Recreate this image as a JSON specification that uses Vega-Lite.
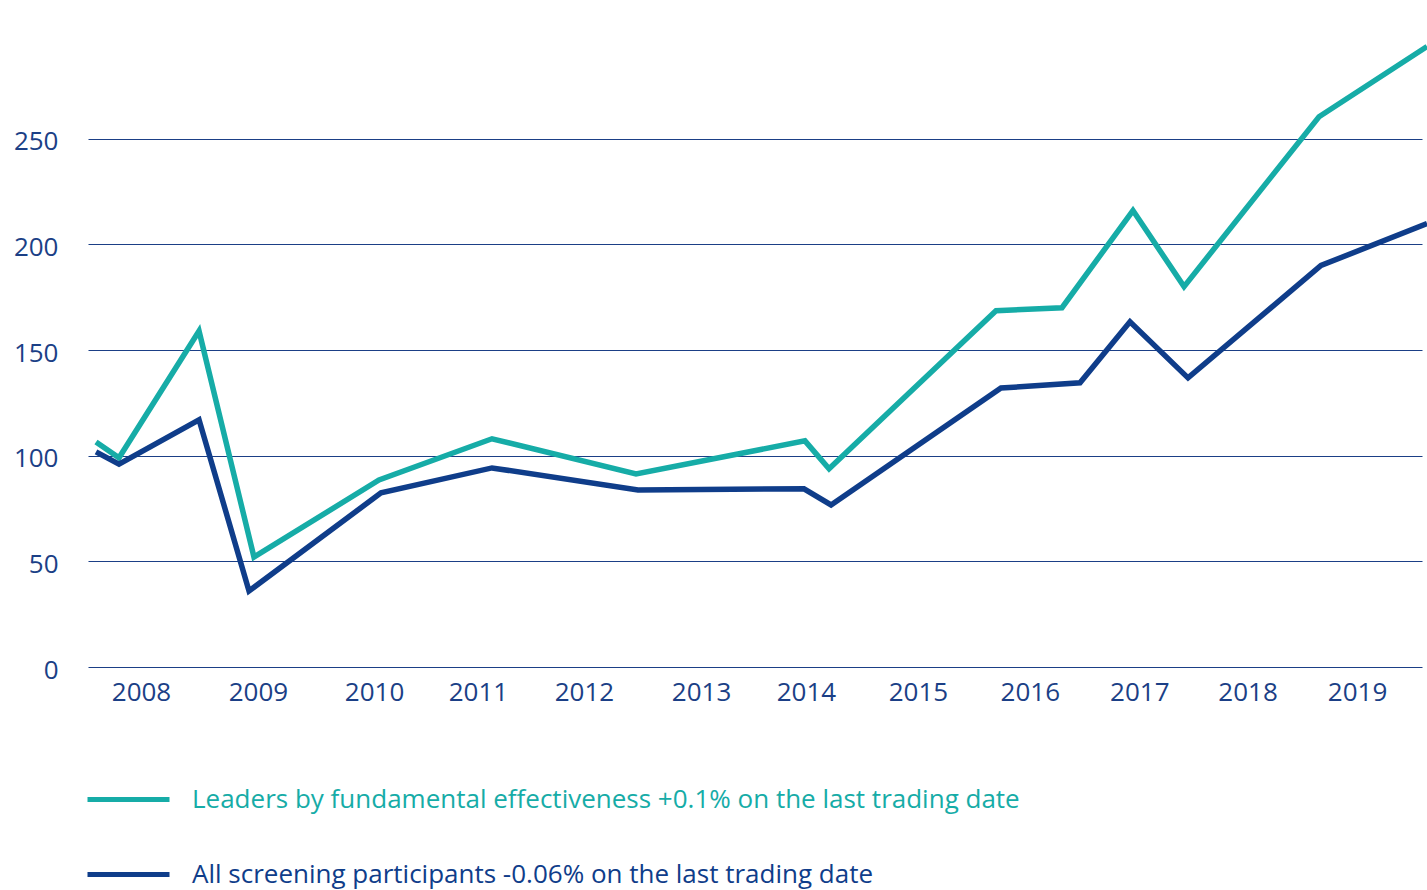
{
  "$schema": "https://vega.github.io/schema/vega-lite/v6.json",
  "width": 1334,
  "height": 634,
  "autosize": {"type": "none"},
  "padding": {"left": 88, "top": 33, "right": 5, "bottom": 223},
  "background": "white",
  "config": {
    "view": {"stroke": null},
    "font": "Open Sans"
  },
  "data": {
    "values": [
      {"series": "Leaders by fundamental effectiveness +0.1% on the last trading date", "t": 2007.593, "v": 106.5},
      {"series": "Leaders by fundamental effectiveness +0.1% on the last trading date", "t": 2007.801, "v": 99},
      {"series": "Leaders by fundamental effectiveness +0.1% on the last trading date", "t": 2008.525, "v": 159},
      {"series": "Leaders by fundamental effectiveness +0.1% on the last trading date", "t": 2009.022, "v": 52},
      {"series": "Leaders by fundamental effectiveness +0.1% on the last trading date", "t": 2010.153, "v": 88.5},
      {"series": "Leaders by fundamental effectiveness +0.1% on the last trading date", "t": 2011.175, "v": 108},
      {"series": "Leaders by fundamental effectiveness +0.1% on the last trading date", "t": 2012.478, "v": 91.4},
      {"series": "Leaders by fundamental effectiveness +0.1% on the last trading date", "t": 2014.006, "v": 107},
      {"series": "Leaders by fundamental effectiveness +0.1% on the last trading date", "t": 2014.224, "v": 93.8},
      {"series": "Leaders by fundamental effectiveness +0.1% on the last trading date", "t": 2015.734, "v": 168.6},
      {"series": "Leaders by fundamental effectiveness +0.1% on the last trading date", "t": 2016.331, "v": 170},
      {"series": "Leaders by fundamental effectiveness +0.1% on the last trading date", "t": 2016.973, "v": 216},
      {"series": "Leaders by fundamental effectiveness +0.1% on the last trading date", "t": 2017.435, "v": 180},
      {"series": "Leaders by fundamental effectiveness +0.1% on the last trading date", "t": 2018.656, "v": 260.4},
      {"series": "Leaders by fundamental effectiveness +0.1% on the last trading date", "t": 2019.633, "v": 293.6},
      {"series": "All screening participants -0.06% on the last trading date", "t": 2007.593, "v": 101.8},
      {"series": "All screening participants -0.06% on the last trading date", "t": 2007.801, "v": 96},
      {"series": "All screening participants -0.06% on the last trading date", "t": 2008.525, "v": 117},
      {"series": "All screening participants -0.06% on the last trading date", "t": 2008.977, "v": 36},
      {"series": "All screening participants -0.06% on the last trading date", "t": 2010.171, "v": 82.4},
      {"series": "All screening participants -0.06% on the last trading date", "t": 2011.175, "v": 94.2},
      {"series": "All screening participants -0.06% on the last trading date", "t": 2012.496, "v": 83.8},
      {"series": "All screening participants -0.06% on the last trading date", "t": 2013.997, "v": 84.3},
      {"series": "All screening participants -0.06% on the last trading date", "t": 2014.242, "v": 76.7},
      {"series": "All screening participants -0.06% on the last trading date", "t": 2015.779, "v": 132},
      {"series": "All screening participants -0.06% on the last trading date", "t": 2016.494, "v": 134.5},
      {"series": "All screening participants -0.06% on the last trading date", "t": 2016.946, "v": 163.4},
      {"series": "All screening participants -0.06% on the last trading date", "t": 2017.471, "v": 136.8},
      {"series": "All screening participants -0.06% on the last trading date", "t": 2018.674, "v": 190},
      {"series": "All screening participants -0.06% on the last trading date", "t": 2019.633, "v": 209.8}
    ]
  },
  "mark": {"type": "line", "strokeWidth": 5.5, "strokeJoin": "miter", "clip": false},
  "encoding": {
    "x": {
      "field": "t",
      "type": "quantitative",
      "scale": {"domain": [2007.5206, 2019.5875], "nice": false, "zero": false},
      "axis": {
        "title": null,
        "grid": false,
        "domain": false,
        "ticks": false,
        "values": [2008, 2009.058, 2010.108, 2011.048, 2012.007, 2013.066, 2014.015, 2015.028, 2016.04, 2017.03, 2018.01, 2019.0],
        "labelExpr": "'' + floor(datum.value)",
        "labelFontSize": 26,
        "labelColor": "#1b3f86",
        "labelPadding": 12,
        "labelFlush": false,
        "labelOverlap": false
      }
    },
    "y": {
      "field": "v",
      "type": "quantitative",
      "scale": {"domain": [0, 300], "nice": false},
      "axis": {
        "title": null,
        "values": [0, 50, 100, 150, 200, 250],
        "grid": true,
        "gridColor": "#1b3f86",
        "gridWidth": 1,
        "gridOpacity": 1,
        "domain": false,
        "ticks": false,
        "labelFontSize": 26,
        "labelColor": "#1b3f86",
        "labelPadding": 30,
        "labelOffset": 3
      }
    },
    "color": {
      "field": "series",
      "type": "nominal",
      "scale": {
        "domain": ["Leaders by fundamental effectiveness +0.1% on the last trading date", "All screening participants -0.06% on the last trading date"],
        "range": ["#16aca7", "#0f3d8a"]
      },
      "legend": {
        "title": null,
        "orient": "none",
        "legendX": -3,
        "legendY": 723,
        "direction": "vertical",
        "symbolType": "stroke",
        "symbolSize": 6724,
        "symbolStrokeWidth": 5,
        "labelFontSize": 26,
        "labelOffset": 20,
        "labelLimit": 2000,
        "rowPadding": 18,
        "encode": {
          "labels": {
            "update": {
              "fill": {"signal": "datum.index === 0 ? '#16aca7' : '#0f3d8a'"}
            }
          }
        }
      }
    }
  }
}
